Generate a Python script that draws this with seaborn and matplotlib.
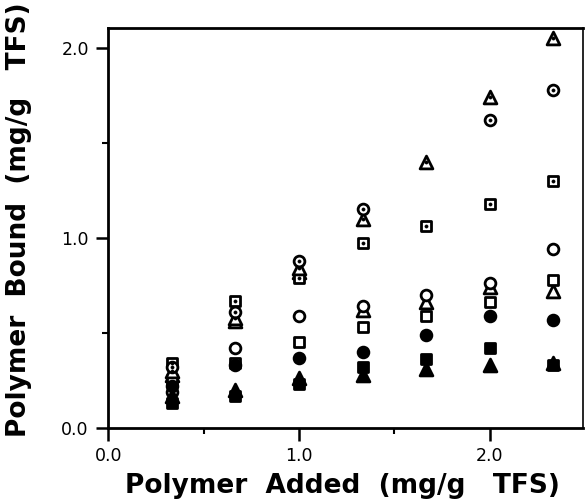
import numpy as np
import pandas as pd
import seaborn as sns
import matplotlib.pyplot as plt
from matplotlib.ticker import MultipleLocator

# polymer added (mg/g TFS)
added = [0.333, 0.667, 1.0, 1.333, 1.667, 2.0, 2.333]

# polymer bound (mg/g TFS), one list per symbol
tri_dot = [0.30, 0.58, 0.84, 1.10, 1.40, 1.74, 2.05]
circ_dot = [0.32, 0.61, 0.88, 1.15, np.nan, 1.62, 1.78]
sq_dot = [0.34, 0.67, 0.79, 0.97, 1.06, 1.18, 1.30]
circ_open = [0.19, 0.42, 0.59, 0.64, 0.70, 0.76, 0.94]
sq_open = [0.25, 0.34, 0.45, 0.53, 0.59, 0.66, 0.78]
tri_open = [0.28, 0.56, 0.82, 0.62, 0.66, 0.74, 0.72]
circ_fill = [0.22, 0.33, 0.37, 0.40, 0.49, 0.59, 0.57]
sq_fill = [0.13, 0.17, 0.23, 0.32, 0.36, 0.42, 0.33]
tri_fill = [0.17, 0.20, 0.26, 0.28, 0.31, 0.33, 0.34]

series = [
  ("tri_open", tri_open, "^", "white", False),
  ("sq_open", sq_open, "s", "white", False),
  ("circ_open", circ_open, "o", "white", False),
  ("tri_fill", tri_fill, "^", "black", False),
  ("sq_fill", sq_fill, "s", "black", False),
  ("circ_fill", circ_fill, "o", "black", False),
  ("sq_dot", sq_dot, "s", "white", True),
  ("tri_dot", tri_dot, "^", "white", True),
  ("circ_dot", circ_dot, "o", "white", True),
]
sizes = {"^": 85, "s": 55, "o": 60}

sns.set_style("ticks")
plt.rcParams['font.family'] = ['DejaVu Sans']
for k in ["text.color", "axes.labelcolor", "xtick.color", "ytick.color", "axes.edgecolor"]:
  plt.rcParams[k] = "black"

fig = plt.figure(figsize=(5.85, 5.04), dpi=100)
ax = fig.add_axes([0.185, 0.151, 0.812, 0.794])

for name, vals, mk, fc, dot in series:
  df = pd.DataFrame({"x": added, "y": vals}).dropna()
  sns.scatterplot(data=df, x="x", y="y", marker=mk, s=sizes[mk], color=fc,
                  edgecolor="black", linewidth=2.0, ax=ax, zorder=3)
  if dot:
    sns.scatterplot(data=df, x="x", y="y", marker="o", s=5, color="black",
                    edgecolor="black", linewidth=0.5, ax=ax, zorder=4)

ax.set_xlim(0, 2.49)
ax.set_ylim(0, 2.105)
ax.xaxis.set_major_locator(MultipleLocator(1.0))
ax.xaxis.set_minor_locator(MultipleLocator(0.5))
ax.yaxis.set_major_locator(MultipleLocator(1.0))
ax.yaxis.set_minor_locator(MultipleLocator(0.5))
ax.xaxis.set_major_formatter(lambda v, p: "%.1f" % v)
ax.yaxis.set_major_formatter(lambda v, p: "%.1f" % v)

for side in ["left", "bottom", "top"]:
  ax.spines[side].set_linewidth(2.0)
ax.spines["right"].set_linewidth(1.2)
ax.tick_params(which="major", direction="out", length=9, width=1.8,
               labelsize=12.5, pad=5)
ax.tick_params(which="minor", direction="out", length=4, width=1.5)

ax.set_xlabel("Polymer  Added  (mg/g   TFS)", fontsize=19, fontweight="bold")
ax.set_ylabel("Polymer  Bound  (mg/g   TFS)", fontsize=19, fontweight="bold")
ax.xaxis.set_label_coords(0.494, -0.112)
ax.yaxis.set_label_coords(-0.16, 0.52)

fig.savefig("out.png", dpi=100)
